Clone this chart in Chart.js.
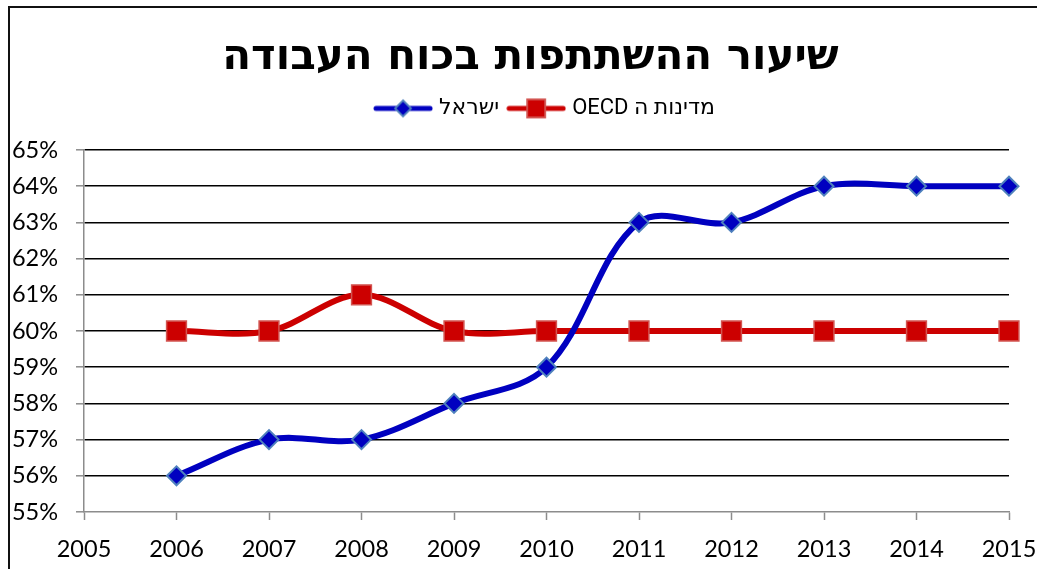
<!DOCTYPE html>
<html>
<head>
<meta charset="utf-8">
<script src="https://cdn.jsdelivr.net/npm/chart.js@4"></script>
<style>
  html, body { margin: 0; padding: 0; background: #fff; overflow: hidden; }
  #wrap { width: 1060px; height: 569px; }
</style>
</head>
<body>
<div id="wrap"><canvas id="chart_ratio" width="1060" height="569"></canvas></div>
<script>
var years = [2006, 2007, 2008, 2009, 2010, 2011, 2012, 2013, 2014, 2015];
var israel = [56, 57, 57, 58, 59, 63, 63, 64, 64, 64];
var oecd = [60, 60, 61, 60, 60, 60, 60, 60, 60, 60];
var seriesLabels = ["ישראל", "מדינות ה OECD"];
var chartTitle = "שיעור ההשתתפות בכוח העבודה   "; // trailing spaces nudge the centred title right

var blue = "#0000C0", blueEdge = "#4F81BD";
var red = "#CC0000", redEdge = "#D25450";

function points(values) {
  return years.map(function (yr, i) { return {x: yr, y: values[i]}; });
}

// legend swatch: short line with the marker in the middle
function legendSwatch(color, edge, shape) {
  var c = document.createElement("canvas");
  c.width = 60; c.height = 22;
  var g = c.getContext("2d");
  g.strokeStyle = color; g.lineWidth = 5; g.lineCap = "round";
  g.beginPath(); g.moveTo(3, 11); g.lineTo(57, 11); g.stroke();
  g.fillStyle = color; g.strokeStyle = edge; g.lineWidth = 1.8;
  g.beginPath();
  if (shape === "diamond") {
    g.moveTo(30, 3); g.lineTo(38, 11); g.lineTo(30, 19); g.lineTo(22, 11); g.closePath();
  } else {
    g.rect(21, 2, 18, 18);
  }
  g.fill(); g.stroke();
  return c;
}
var swatches = [legendSwatch(blue, blueEdge, "diamond"), legendSwatch(red, redEdge, "square")];

var framePlugin = {
  id: "frame",
  beforeDraw: function (chart) {
    var ctx = chart.ctx;
    ctx.save();
    ctx.strokeStyle = "#111";
    ctx.lineWidth = 2;
    ctx.strokeRect(9, 7, 1200, 700);
    ctx.restore();
  }
};

var tickFont = { family: "Lato, sans-serif", size: 23.5 };

var ctx = document.getElementById("chart_ratio").getContext("2d");
var myChart = new Chart(ctx, {
  type: "line",
  data: {
    datasets: [{
      label: seriesLabels[0],
      data: points(israel),
      borderColor: blue,
      backgroundColor: blue,
      borderWidth: 6,
      tension: 0.35,
      clip: false,
      pointStyle: "rectRot",
      pointRadius: 9.5,
      pointBackgroundColor: blue,
      pointBorderColor: blueEdge,
      pointBorderWidth: 2
    }, {
      label: seriesLabels[1],
      data: points(oecd),
      borderColor: red,
      backgroundColor: red,
      borderWidth: 6,
      tension: 0.35,
      clip: false,
      pointStyle: "rect",
      pointRadius: 14,
      pointBackgroundColor: red,
      pointBorderColor: redEdge,
      pointBorderWidth: 1.5
    }]
  },
  options: {
    responsive: false,
    animation: false,
    layout: { padding: { left: 8, right: 51, top: 0, bottom: 7 } },
    plugins: {
      title: {
        display: true,
        text: chartTitle,
        color: "#000",
        font: { family: "'DejaVu Sans', sans-serif", size: 42, weight: "bold" },
        padding: { top: 33, bottom: 2 }
      },
      subtitle: {
        display: true,
        text: " ",
        weight: 500,
        font: { size: 10 },
        padding: { top: 8.6, bottom: 0 }
      },
      legend: {
        display: true,
        position: "top",
        fullSize: false,
        textDirection: "rtl",
        labels: {
          color: "#000",
          font: { family: "Roboto, 'DejaVu Sans', sans-serif", size: 22 },
          usePointStyle: true,
          pointStyleWidth: 50,
          padding: 12,
          generateLabels: function (chart) {
            var items = Chart.defaults.plugins.legend.labels.generateLabels(chart);
            items.forEach(function (it, i) { it.pointStyle = swatches[i]; });
            return items;
          }
        }
      },
      tooltip: { enabled: false }
    },
    scales: {
      x: {
        type: "linear",
        min: 2005,
        max: 2015,
        afterFit: function (scale) { scale.height = 50; },
        ticks: {
          stepSize: 1,
          color: "#000",
          padding: 15,
          font: tickFont,
          callback: function (v) { return String(v); }
        },
        grid: { drawOnChartArea: false, drawTicks: true, tickLength: 8, tickColor: "#8c8c8c", tickWidth: 1.5 },
        border: { color: "#8c8c8c", width: 1.5 }
      },
      y: {
        min: 55,
        max: 65,
        afterFit: function (scale) { scale.width = 76; },
        ticks: {
          stepSize: 1,
          color: "#000",
          padding: 18,
          font: tickFont,
          callback: function (v) { return v + "%"; }
        },
        grid: {
          color: function (c) { return c.tick && c.tick.value === 55 ? "rgba(0,0,0,0)" : "#000"; },
          lineWidth: 1.6,
          tickLength: 8,
          tickColor: "#8c8c8c",
          tickWidth: 1.5
        },
        border: { color: "#8c8c8c", width: 1.5 }
      }
    }
  },
  plugins: [framePlugin]
});
</script>
</body>
</html>
